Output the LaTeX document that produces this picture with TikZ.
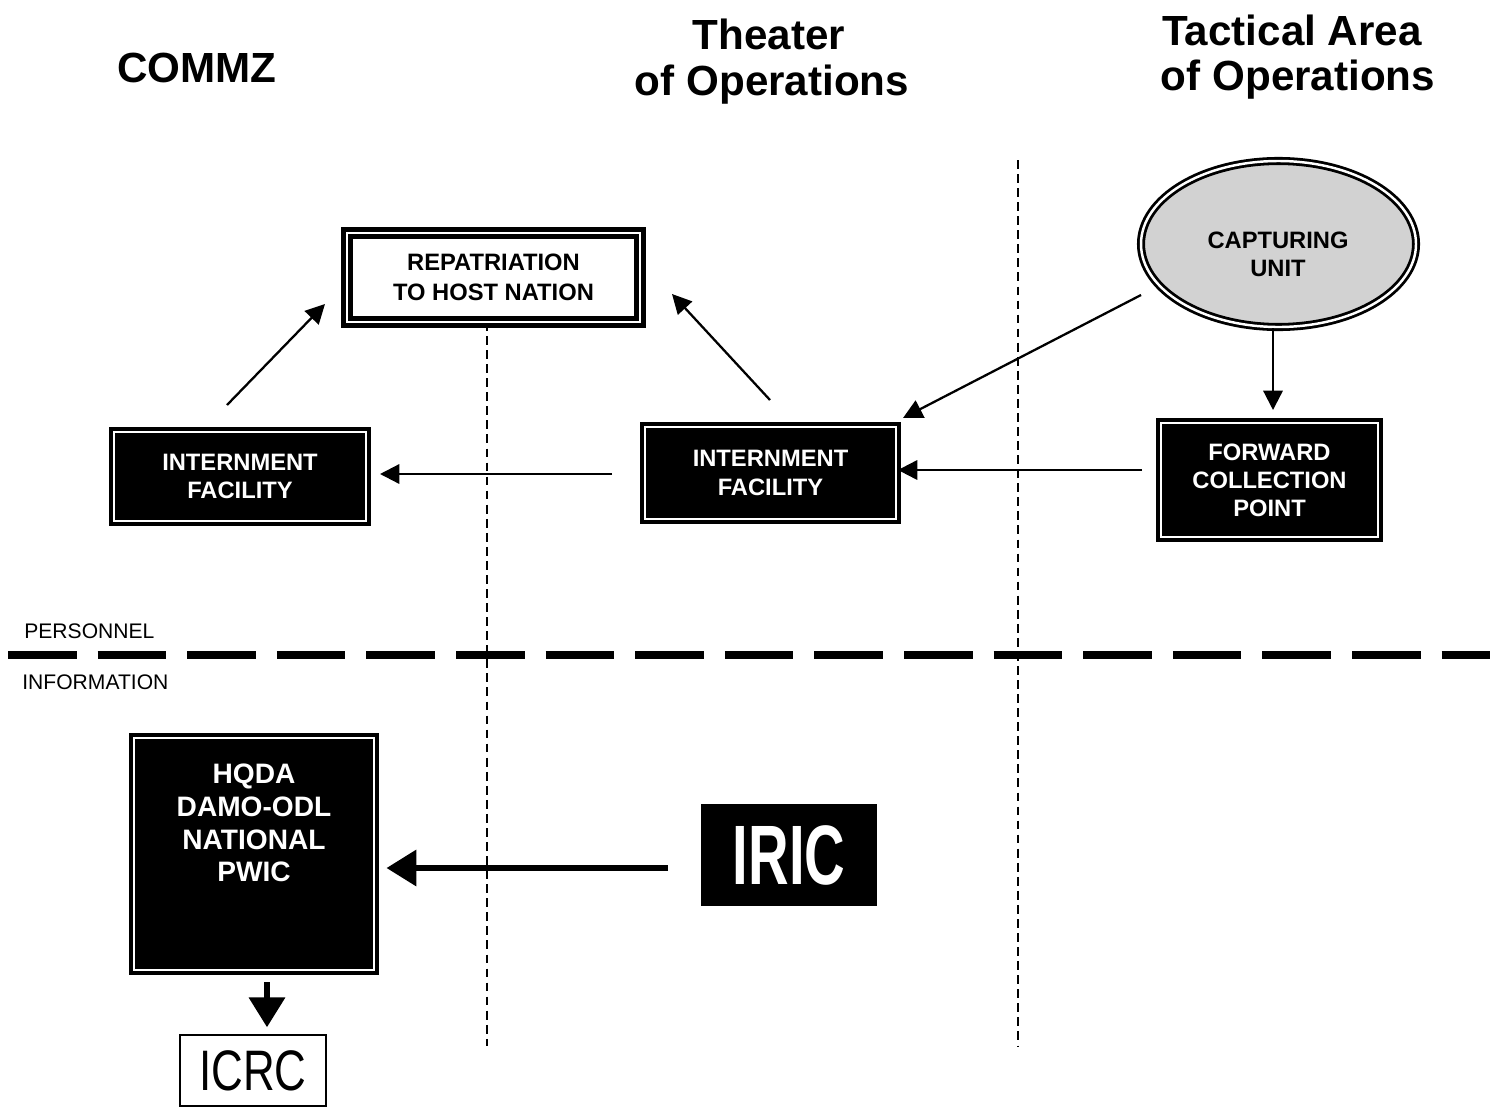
\documentclass[tikz,border=0pt]{standalone}
\usepackage{fontspec}
\setmainfont{Liberation Sans}
\usetikzlibrary{arrows.meta,shapes.geometric}
\def\px{0.02cm}
\tikzset{
  head/.style={font=\fontsize{24}{28}\selectfont\bfseries, inner sep=0pt},
  darkbox/.style={draw=black, fill=black, line width=2.2pt, double=white, double distance=1.4pt,
    text=white, align=center, font=\fontsize{13.5}{16}\selectfont\bfseries, inner sep=0pt},
  lightbox/.style={draw=black, fill=white, line width=2.6pt, double=white, double distance=1.2pt,
    text=black, align=center, font=\fontsize{13.5}{17}\selectfont\bfseries, inner sep=0pt},
  capell/.style={ellipse, draw=black, fill=gray!35, line width=1.6pt, double=white, double distance=1.4pt,
    inner sep=0pt},
  capttxt/.style={align=center, font=\fontsize{13.5}{16}\selectfont\bfseries, inner sep=0pt},
  thinarrow/.style={line width=1.3pt, -{Triangle[length=11pt,width=11pt]}},
  thickarrow/.style={line width=3.5pt, -{Triangle[length=17pt,width=20pt]}},
  zonesep/.style={line width=0.6pt, dash pattern=on 5pt off 3pt},
  flowsep/.style={line width=4.8pt, dash pattern=on 39pt off 12pt},
  smalllabel/.style={font=\fontsize{12}{14}\selectfont, anchor=west, inner sep=0pt},
}
\begin{document}
\begin{tikzpicture}[x=0.02cm, y=-0.02cm]
\useasboundingbox (0,0) rectangle (1497,1109);

% headers
\node[head] (commz) at (197,68) {COMMZ};
\node[head] (theater1) at (769,34) {Theater};
\node[head] (theater2) at (772,85) {of Operations};
\node[head] (tact1) at (1292,30) {Tactical Area};
\node[head] (tact2) at (1298,80) {of Operations};

% zone separators
\coordinate (v1top) at (487,322);
\coordinate (v1bot) at (487,1046);
\coordinate (v2top) at (1018,160);
\coordinate (v2bot) at (1018,1046);
\draw[zonesep] (v1top) -- (v1bot);
\draw[zonesep] (v2top) -- (v2bot);

% personnel / information
\coordinate (hl) at (8,655);
\coordinate (hr) at (1490,655);
\draw[flowsep] (hl) -- (hr);
\node[smalllabel] (pers) at (24,631) {PERSONNEL};
\node[smalllabel] (info) at (22,682) {INFORMATION};

% nodes
\node[lightbox, minimum width={293*\px}, minimum height={89*\px}] (repat) at (493.5,277.5)
  {REPATRIATION\\TO HOST NATION};
\node[capell, minimum width={275*\px}, minimum height={166*\px}] (capt) at (1278.5,244) {};
\node[capttxt] (capttext) at (1278,254) {CAPTURING\\UNIT};
\node[darkbox, minimum width={217*\px}, minimum height={114*\px}] (fwd) at (1269.5,480)
  {FORWARD\\COLLECTION\\POINT};
\node[darkbox, minimum width={251*\px}, minimum height={92*\px}] (intT) at (770.5,473)
  {INTERNMENT\\FACILITY};
\node[darkbox, minimum width={252*\px}, minimum height={89*\px}] (intC) at (240,476.5)
  {INTERNMENT\\FACILITY};
\node[darkbox, minimum width={240*\px}, minimum height={232*\px}] (hqda) at (254,854) {};
\node[text=white, align=center, font=\fontsize{16}{18.7}\selectfont\bfseries, inner sep=0pt]
  (hqdatext) at (254,823) {HQDA\\DAMO-ODL\\NATIONAL\\PWIC};
\node[draw=black, fill=black, line width=1pt, text=white, minimum width={174*\px}, minimum height={100*\px},
  font=\fontsize{32}{36}\selectfont\bfseries, inner sep=0pt] (iric) at (789,855)
  {\scalebox{1}[1.5]{IRIC}};
\node[draw=black, fill=white, line width=0.8pt, minimum width={146*\px}, minimum height={71*\px},
  font=\fontsize{25}{28}\selectfont, inner sep=0pt] (icrc) at (253,1070.5)
  {\scalebox{1}[1.3]{ICRC}};

% connectors
\coordinate (a1s) at (770,400);
\coordinate (a1e) at (672,294);
\draw[thinarrow] (a1s) -- (a1e);
\coordinate (a2s) at (227,405);
\coordinate (a2e) at (325,304);
\draw[thinarrow] (a2s) -- (a2e);
\coordinate (a3s) at (1141,295);
\coordinate (a3e) at (903,418);
\draw[thinarrow] (a3s) -- (a3e);
\coordinate (a4e) at (1273,410);
\draw[thinarrow] (capt.south -| a4e) -- (a4e);
\coordinate (a5s) at (1142,470);
\draw[thinarrow] (a5s) -- (intT.east |- a5s);
\coordinate (a6s) at (612,474);
\coordinate (a6e) at (380,474);
\draw[thinarrow] (a6s) -- (a6e);
\coordinate (a7s) at (668,868);
\draw[thickarrow] (a7s) -- ([xshift=6pt]hqda.east |- a7s);
\coordinate (a8s) at (267,982);
\draw[thickarrow] (a8s) -- ([yshift=4pt]icrc.north -| a8s);
\end{tikzpicture}
\end{document}
